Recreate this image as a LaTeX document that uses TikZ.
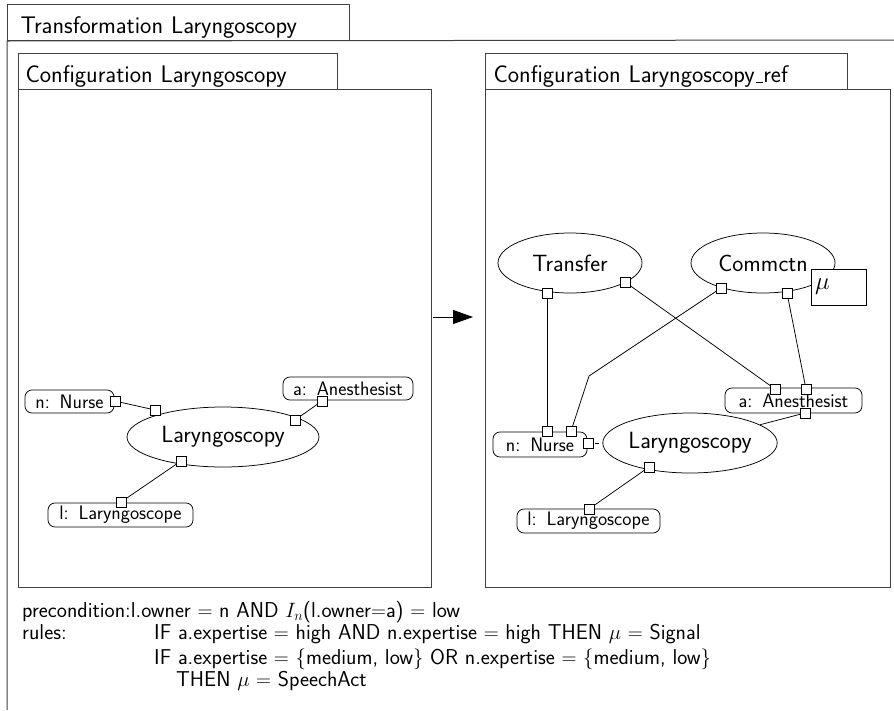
\documentclass[tikz,border=0pt]{standalone}
\usetikzlibrary{shapes.geometric,arrows.meta,backgrounds}
\renewcommand{\familydefault}{\sfdefault}
% short baseline rule, as in the classic \_ of the OT1 fonts
\newcommand{\uscorebar}{\leavevmode\kern.06em\vbox{\hrule width.3em height 0.9pt}}
\begin{document}
\begin{tikzpicture}[x=1pt,y=-1pt,
  frame/.style={draw=black!75, line width=1pt},
  tab/.style={frame, anchor=north west, inner ysep=0pt, align=left,
    text height=29pt, text depth=7pt, font=\fontsize{24}{28}\selectfont},
  cfgbox/.style={frame, anchor=north west, inner sep=0pt},
  proc/.style={draw, ellipse, inner sep=0pt, line width=0.75pt,
    font=\fontsize{23.5}{26}\selectfont},
  part/.style={draw, rounded corners=7pt, inner sep=0pt, line width=0.75pt,
    font=\fontsize{19.5}{22}\selectfont},
  port/.style={draw, fill=white, minimum size=10pt, inner sep=0pt, line width=0.75pt},
  link/.style={line width=0.75pt},
  rule/.style={anchor=base west, inner sep=0pt, font=\fontsize{21.5}{24}\selectfont}]
\useasboundingbox (0,0) rectangle (894,710);

% outer transformation frame
\node[tab, inner xsep=13pt, text width=316pt] (ttab) at (7,4) {Transformation Laryngoscopy};
\coordinate (frTR) at (894,40);
\coordinate (frBL) at (7,710);
\draw[frame] (frBL) -- (ttab.south west) -- (frTR);

% left configuration
\node[tab, inner xsep=7pt, text width=305pt] (ltab) at (18,53) {Configuration Laryngoscopy};
\node[cfgbox, minimum width=413pt, minimum height=498pt] (lcfg) at (18,89) {};

% right configuration
\node[tab, inner xsep=8pt, text width=346pt] (rtab) at (485,53) {Configuration Laryngoscopy\uscorebar ref};
\node[cfgbox, minimum width=405pt, minimum height=498pt] (rcfg) at (485,89) {};

% transformation arrow
\coordinate (arrS) at (433,317);
\coordinate (arrE) at (473,317);
\draw[link, -{Triangle[length=20pt,width=14pt]}] (arrS) -- (arrE);

% ---- left configuration content
\node[proc, minimum width=192pt, minimum height=60pt] (llar) at (223,437) {Laryngoscopy};
\node[part, minimum width=89pt, minimum height=23pt] (lnur) at (69.5,401.5) {n:\enspace Nurse};
\node[part, minimum width=130pt, minimum height=23pt] (lane) at (348,388.5) {a:\enspace Anesthesist};
\node[part, minimum width=145pt, minimum height=24pt] (llsc) at (120.5,515) {l:\enspace Laryngoscope};

\node[port] (lnp) at (115,401) {};
\node[port] (lp1) at (155,410) {};
\node[port] (lp2) at (295,420) {};
\node[port] (lap) at (322,401) {};
\node[port] (lp3) at (181,461) {};
\node[port] (llp) at (121,502) {};

% ---- right configuration content
\node[proc, minimum width=144pt, minimum height=60pt] (rtra) at (570,263) {Transfer};
\node[proc, minimum width=144pt, minimum height=60pt] (rcom) at (763,263) {Commctn};
\node[draw, fill=white, line width=0.75pt, minimum width=55pt, minimum height=36pt,
  inner xsep=4pt, text width=47pt, align=left, font=\fontsize{24}{26}\selectfont]
  (rmu) at (838.5,287) {$\mu$};
\node[proc, minimum width=164pt, minimum height=60pt] (rlar) at (690,443) {Laryngoscopy};
\node[part, minimum width=137pt, minimum height=25pt] (rane) at (793.5,400.5) {a:\enspace Anesthesist};
\node[part, minimum width=94pt, minimum height=25pt] (rnur) at (540,444.5) {n:\enspace Nurse};
\node[part, minimum width=143pt, minimum height=24pt] (rlsc) at (588.5,521) {l:\enspace Laryngoscope};

\node[port] (rt1) at (547,293) {};
\node[port] (rt2) at (625,282) {};
\node[port] (rc1) at (721,288) {};
\node[port] (rc2) at (787,293) {};
\node[port] (ra1) at (775,389) {};
\node[port] (ra2) at (806,389) {};
\node[port] (ra3) at (805,413) {};
\node[port] (rn1) at (547,431) {};
\node[port] (rn2) at (571,431) {};
\node[port] (rn3) at (588,443) {};
\node[port] (rlp) at (649,467) {};
\node[port] (rsp) at (589,509) {};
\coordinate (rbend) at (589,376);

% connectors sit beneath the ports
\begin{scope}[on background layer]
  \draw[link] (lnp.center) -- (lp1.center);
  \draw[link] (lap.center) -- (lp2.center);
  \draw[link] (lp3.center) -- (llp.center);
  \draw[link] (rt1.center) -- (rn1.center);
  \draw[link] (rt2.center) -- (ra1.center);
  \draw[link] (rc2.center) -- (ra2.center);
  \draw[link] (rc1.center) -- (rbend) -- (rn2.center);
  \draw[link] (ra3.center) -- (rlar);
  \draw[link, dash pattern=on 4pt off 4pt, dash phase=1pt] (rn3.center) -- (rlar);
  \draw[link] (rlp.center) -- (rsp.center);
\end{scope}

% transformation rules
\node[rule] (pre) at (22,617) {precondition:l.owner $=$ n AND $I_n$(l.owner$=$a) $=$ low};
\node[rule] (rl) at (22,639) {rules:};
\node[rule] (r1) at (154,639) {IF a.expertise $=$ high AND n.expertise $=$ high THEN $\mu$ $=$ Signal};
\node[rule] (r2) at (154,664) {IF a.expertise $=$ $\{$medium, low$\}$ OR n.expertise $=$ $\{$medium, low$\}$};
\node[rule] (r3) at (176,686) {THEN $\mu$ $=$ SpeechAct};
\end{tikzpicture}
\end{document}
